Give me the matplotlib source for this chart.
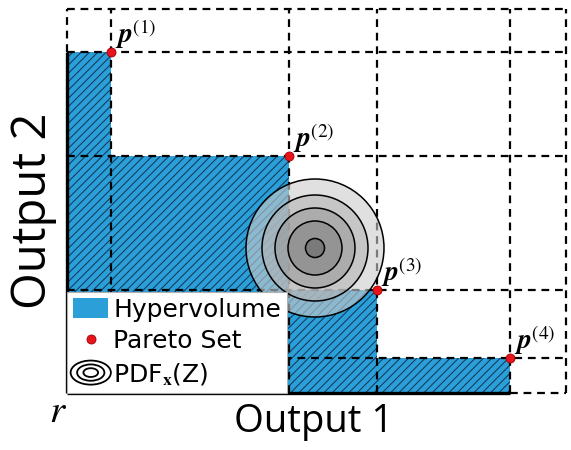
import numpy as np
import matplotlib
matplotlib.use("Agg")
import matplotlib.pyplot as plt
from matplotlib.patches import Polygon, Circle, Ellipse, Patch
from matplotlib.lines import Line2D
from matplotlib.legend_handler import HandlerBase

# ------------------------------------------------------------
# DATA (arbitrary units, reference point r at the origin)
# ------------------------------------------------------------
pareto_x = [0.44, 2.22, 3.10, 4.43]
pareto_y = [3.41, 2.37, 1.03, 0.35]
pareto_labels = [r"$\mathbfit{p}^{(1)}$", r"$\mathbfit{p}^{(2)}$",
                 r"$\mathbfit{p}^{(3)}$", r"$\mathbfit{p}^{(4)}$"]
x_bound = 4.99
y_bound = 3.84

pdf_center = (2.48, 1.45)
pdf_radii = [0.69, 0.53, 0.40, 0.27, 0.095]
pdf_grays = ["0.80", "0.71", "0.61", "0.52", "0.41"]

legend_labels = ["Hypervolume", "Pareto Set", r"PDF$_\mathbf{x}$(Z)"]

plt.rcParams["mathtext.fontset"] = "stix"
plt.rcParams["hatch.linewidth"] = 0.75

HV_BLUE = "#2a9fd8"
DASH = dict(color="black", lw=1.6, ls=(0, (3.5, 2.6)))


class HandlerRings(HandlerBase):
    """Concentric ellipses as a legend symbol."""
    def create_artists(self, legend, orig_handle, xdescent, ydescent,
                       width, height, fontsize, trans):
        cx = width / 2 - xdescent
        cy = height / 2 - ydescent
        arts = []
        for s in [1.15, 0.78, 0.42]:
            e = Ellipse((cx, cy), width * s, height * s * 1.05, fill=False,
                        ec="black", lw=1.3, transform=trans)
            arts.append(e)
        return arts


fig = plt.figure(figsize=(5.71, 4.5), dpi=100)
ax = fig.add_axes([67 / 571, 57 / 450, 499 / 571, 384 / 450])
ax.set_xlim(0, x_bound)
ax.set_ylim(0, y_bound)
ax.axis("off")

# ------------------------------------------------------------
# hypervolume staircase
# ------------------------------------------------------------
verts = [(0, 0), (0, pareto_y[0])]
for i in range(len(pareto_x)):
    verts.append((pareto_x[i], pareto_y[i]))
    if i + 1 < len(pareto_x):
        verts.append((pareto_x[i], pareto_y[i + 1]))
verts.append((pareto_x[-1], 0))
hv = Polygon(verts, closed=True, fc=HV_BLUE, ec="#15385a", lw=0,
             hatch="////", zorder=1)
ax.add_patch(hv)

# ------------------------------------------------------------
# dashed grid through the Pareto points
# ------------------------------------------------------------
for xv in pareto_x + [x_bound]:
    ax.plot([xv, xv], [0, y_bound], zorder=2, clip_on=False, **DASH)
for yv in pareto_y + [y_bound]:
    ax.plot([0, x_bound], [yv, yv], zorder=2, clip_on=False, **DASH)
ax.plot([0, 0], [pareto_y[0], y_bound], zorder=2, clip_on=False, **DASH)
ax.plot([pareto_x[-1], x_bound], [0, 0], zorder=2, clip_on=False, **DASH)

# solid axes
ax.plot([0, 0], [0, pareto_y[0]], color="black", lw=2.4, zorder=4,
        clip_on=False, solid_capstyle="butt")
ax.plot([0, pareto_x[-1]], [0, 0], color="black", lw=2.4, zorder=4,
        clip_on=False, solid_capstyle="butt")

# ------------------------------------------------------------
# predictive distribution rings
# ------------------------------------------------------------
for rad, g in zip(pdf_radii, pdf_grays):
    ax.add_patch(Circle(pdf_center, rad, fc=g, alpha=0.6, ec="none", zorder=3))
    ax.add_patch(Circle(pdf_center, rad, fill=False, ec="black", lw=1.1,
                        zorder=3.1))
ax.set_aspect("equal", adjustable="datalim")
ax.set_xlim(0, x_bound)
ax.set_ylim(0, y_bound)

# ------------------------------------------------------------
# Pareto points and labels
# ------------------------------------------------------------
ax.plot(pareto_x, pareto_y, "o", ms=6.5, mfc="#e8141c", mec="#a00000",
        mew=0.6, zorder=6, clip_on=False)
for px, py, lab in zip(pareto_x, pareto_y, pareto_labels):
    ax.annotate(lab, (px, py), xytext=(3, 1), textcoords="offset points",
                ha="left", va="bottom", fontsize=20, zorder=7)

# ------------------------------------------------------------
# legend
# ------------------------------------------------------------
h_hv = Patch(fc=HV_BLUE, ec="none")
h_pt = Line2D([], [], ls="none", marker="o", ms=6.5, mfc="#e8141c",
              mec="#a00000", mew=0.6)
h_pdf = object()
leg = ax.legend([h_hv, h_pt, h_pdf], legend_labels,
                handler_map={h_pdf: HandlerRings()},
                loc="lower left", bbox_to_anchor=(0.0, 0.0),
                borderaxespad=0, fancybox=False, framealpha=1,
                edgecolor="#b0b0b0", handlelength=1.4,
                handleheight=0.85, handletextpad=0.2, labelspacing=0.3,
                borderpad=0.25, prop={"family": "DejaVu Sans", "size": 18})
leg.get_frame().set_linewidth(0.8)
leg.set_zorder(5)

# ------------------------------------------------------------
# axis titles
# ------------------------------------------------------------
fig.text(314 / 571, (450 - 422) / 450, "Output 1", ha="center", va="center",
         fontsize=27.5, family="Open Sans")
fig.text(33 / 571, (450 - 211) / 450, "Output 2", ha="center", va="center",
         rotation=90, fontsize=34, family="Open Sans")
fig.text(58 / 571, (450 - 411) / 450, r"$r$", ha="center", va="center",
         fontsize=28)

fig.savefig("out.png", dpi=100)
